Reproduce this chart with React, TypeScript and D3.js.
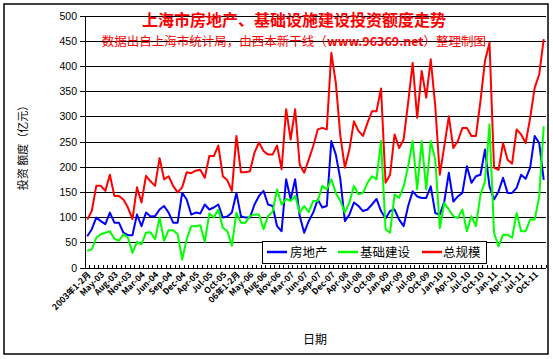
import React, { useEffect } from "react";
import * as d3 from "d3";

const monthsEn = ["Jan", "Feb", "Mar", "Apr", "May", "Jun", "Jul", "Aug", "Sep", "Oct", "Nov", "Dec"];
const years = ["03", "04", "05", "06", "07", "08", "09", "10", "11"];

// category list: 2003-2008 with Jan-Feb combined, 2009-2011 monthly
const categories: string[] = [];
years.forEach((yy, k) => {
  if (k < 6) {
    categories.push(k === 0 ? "2003年1-2月" : `${yy}年1-2月`);
    for (let m = 2; m < 12; m++) categories.push(`${monthsEn[m]}-${yy}`);
  } else {
    for (let m = 0; m < 12; m++) categories.push(`${monthsEn[m]}-${yy}`);
  }
});

const realEstate = [
  63, 77, 100, 93, 87, 110, 90, 90, 70, 65, 65, 106, 83, 110, 102, 103, 116, 123, 110, 90,
  90, 149, 136, 106, 110, 108, 126, 116, 120, 126, 100, 102, 110, 149, 103, 100, 100, 126, 143, 153,
  126, 123, 83, 73, 176, 136, 176, 103, 70, 93, 110, 136, 120, 123, 252, 225, 176, 93, 106, 130,
  123, 113, 116, 126, 137, 113, 98, 113, 116, 96, 83, 123, 152, 142, 139, 139, 162, 109, 106, 132,
  189, 132, 142, 149, 202, 169, 182, 185, 235, 162, 136, 152, 179, 149, 149, 159, 185, 177, 199, 262,
  248, 175,
];

const infrastructure = [
  34, 37, 60, 67, 70, 73, 58, 54, 67, 60, 30, 52, 47, 70, 71, 57, 100, 54, 75, 75,
  67, 17, 57, 83, 83, 85, 52, 108, 100, 116, 80, 73, 44, 110, 90, 90, 103, 106, 106, 77,
  103, 111, 156, 126, 137, 133, 143, 110, 123, 111, 133, 133, 163, 156, 176, 149, 133, 110, 130, 163,
  146, 149, 169, 182, 176, 252, 77, 70, 146, 139, 162, 202, 252, 156, 252, 156, 252, 215, 79, 129,
  116, 103, 99, 116, 73, 103, 83, 145, 172, 285, 70, 43, 66, 66, 60, 109, 73, 73, 96, 96,
  142, 281,
];

const total = [
  96, 113, 163, 163, 153, 185, 143, 143, 136, 120, 97, 160, 130, 183, 172, 163, 218, 176, 182, 163,
  150, 160, 190, 188, 193, 195, 179, 222, 222, 243, 182, 174, 153, 262, 190, 190, 192, 229, 249, 232,
  225, 225, 243, 196, 315, 255, 315, 205, 189, 215, 242, 275, 278, 275, 427, 367, 262, 199, 235, 291,
  272, 262, 288, 311, 311, 356, 169, 185, 265, 238, 255, 328, 407, 298, 391, 338, 414, 321, 185, 242,
  301, 238, 252, 278, 278, 262, 262, 331, 411, 447, 199, 195, 248, 215, 207, 275, 265, 248, 298, 358,
  384, 454,
];

const yTicks = [0, 50, 100, 150, 200, 250, 300, 350, 400, 450, 500];

const seriesList = [
  { name: "房地产", values: realEstate, color: "#0000FF" },
  { name: "基础建设", values: infrastructure, color: "#00FF00" },
  { name: "总规模", values: total, color: "#FF0000" },
];

const W = 553;
const H = 359;
const plot = { left: 85, right: 546, top: 16, bottom: 268 };
const font = "'Liberation Sans', Arial, 'Noto Sans CJK SC', sans-serif";
const cjk = "'Noto Sans CJK SC', 'Liberation Sans', sans-serif";

export default function App() {
  useEffect(() => {
    document.body.style.margin = "0";
  }, []);

  const x = d3.scaleBand<string>().domain(categories).range([plot.left, plot.right]).padding(0);
  const y = d3.scaleLinear().domain([0, 500]).range([plot.bottom, plot.top]);
  const bw = x.bandwidth();
  const cx = (i: number) => (x(categories[i]) as number) + bw / 2;

  const line = d3
    .line<number>()
    .x((_, i) => cx(i))
    .y((d) => y(d));

  const tickXs = d3.range(categories.length + 1).map((i) => plot.left + i * bw);

  return (
    <svg width={W} height={H} style={{ display: "block", background: "#fff" }}>
      <rect x={4} y={4} width={544} height={350} fill="#fff" stroke="#000" strokeWidth={1.5} />

      {/* gridlines */}
      {yTicks.map((t) => (
        <line key={t} x1={plot.left - 5} x2={plot.right} y1={y(t)} y2={y(t)} stroke="#000" strokeWidth={1} shapeRendering="crispEdges" />
      ))}
      {yTicks.map((t) => (
        <text key={"l" + t} x={77} y={y(t)} dy="0.35em" textAnchor="end" fontFamily={font} fontSize={10.5} fill="#000">
          {t}
        </text>
      ))}

      {/* axes */}
      <line x1={plot.left} x2={plot.left} y1={plot.top} y2={plot.bottom} stroke="#000" strokeWidth={1} shapeRendering="crispEdges" />
      <line x1={plot.left} x2={plot.right} y1={plot.bottom} y2={plot.bottom} stroke="#000" strokeWidth={1} shapeRendering="crispEdges" />
      {tickXs.map((tx, i) => (
        <line key={"t" + i} x1={tx} x2={tx} y1={plot.bottom - 3} y2={plot.bottom} stroke="#000" strokeWidth={1} shapeRendering="crispEdges" />
      ))}

      {/* series */}
      {seriesList.map((s) => (
        <path key={s.name} d={line(s.values) as string} fill="none" stroke={s.color} strokeWidth={2} strokeLinejoin="round" />
      ))}

      {/* x labels */}
      {categories.map((c, i) =>
        i % 3 === 0 ? (
          <text
            key={"x" + i}
            transform={`translate(${cx(i) + 2},${plot.bottom + 5}) rotate(-45)`}
            textAnchor="end"
            dy="0.35em"
            fontFamily={cjk}
            fontSize={8.5}
            fontWeight="bold"
            fill="#000"
          >
            {c}
          </text>
        ) : null
      )}

      {/* legend */}
      <rect x={262} y={241} width={224} height={22} fill="#fff" stroke="#000" strokeWidth={1} shapeRendering="crispEdges" />
      {[
        { lx: 267, tx: 290 },
        { lx: 338, tx: 360 },
        { lx: 422, tx: 443 },
      ].map((p, k) => (
        <g key={"lg" + k}>
          <line x1={p.lx} x2={p.lx + 20} y1={252} y2={252} stroke={seriesList[k].color} strokeWidth={2.5} />
          <text x={p.tx} y={252} dy="0.38em" fontFamily={cjk} fontSize={12.5} fill="#000">
            {seriesList[k].name}
          </text>
        </g>
      ))}

      {/* titles */}
      <text x={294} y={26} textAnchor="middle" fontFamily={cjk} fontSize={16} fontWeight="bold" fill="#FF0000">
        上海市房地产、基础设施建设投资额度走势
      </text>
      <text x={294} y={46} textAnchor="middle" fontFamily={cjk} fontSize={12.5} fill="#FF0000">
        数据出自上海市统计局，由西本新干线（<tspan fontWeight="bold">www.96369.net</tspan>）整理制图
      </text>

      <text transform="translate(23,145) rotate(-90)" textAnchor="middle" dy="0.35em" fontFamily={cjk} fontSize={11} fill="#000">
        投资 额度（亿元）
      </text>
      <text x={315} y={344} textAnchor="middle" fontFamily={cjk} fontSize={12} fill="#000">
        日期
      </text>
    </svg>
  );
}
